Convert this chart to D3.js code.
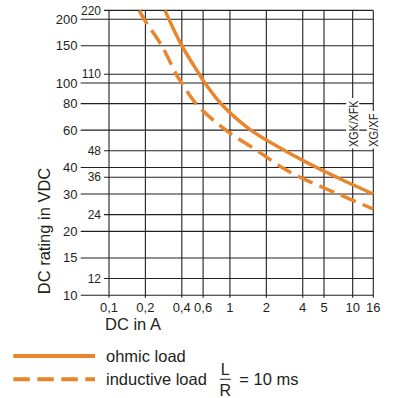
<!DOCTYPE html>
<html>
<head>
<meta charset="utf-8">
<script src="https://cdn.jsdelivr.net/npm/d3@7"></script>
<style>
html,body{margin:0;padding:0;background:#fff;}
svg{display:block;}
text{font-family:"Liberation Sans",Arial,Helvetica,sans-serif;fill:#231f20;}
</style>
</head>
<body>
<script>
// ---- data ----
const xTickValues = [0.1, 0.2, 0.4, 0.6, 1, 2, 4, 5, 10, 16];
const xTickLabels = ["0,1", "0,2", "0,4", "0,6", "1", "2", "4", "5", "10", "16"];
const yMajorTicks = [10, 15, 20, 30, 40, 60, 80, 100, 150, 200];
const yMinorTicks = [12, 24, 36, 48, 110, 220];

// ohmic load (solid)
const ohmicCurrent = [0.29, 0.40, 0.558, 0.622, 0.86, 1.49, 2.86, 4.63, 6.8, 16];
const ohmicVoltage = [220, 150, 110, 100, 79, 60, 48, 40, 36, 30];
// inductive load L/R = 10 ms (dashed)
const inductiveCurrent = [0.178, 0.195, 0.273, 0.36, 0.40, 0.534, 0.928, 1.68, 2.7, 3.8, 7.06, 16];
const inductiveVoltage = [220, 200, 150, 110, 100, 79, 60, 48, 40, 36, 30, 25.5];

const relayLabels = [{text: "XGK/XFK", at: 10}, {text: "XG/XF", at: 16}];

// ---- layout ----
(function () {
const W = 395, H = 398;
const pLeft = 109, pRight = 373.3, pTop = 10.4, pBottom = 295.3;
const orange = "#e9862b";
const ink = "#231f20";

const svg = d3.select("body").append("svg").attr("width", W).attr("height", H);

const pw = pRight - pLeft;
const x = d3.scaleLog()
  .domain([0.1, 4, 5, 10, 16])
  .range([pLeft, pLeft + pw * 0.733, pLeft + pw * 0.8135, pLeft + pw * 0.922, pRight]);
const y = d3.scaleLog().domain([10, 220]).range([pBottom, pTop]);

const grid = svg.append("g").attr("stroke", ink).attr("stroke-width", 1.1).attr("fill", "none");

grid.selectAll("line.v").data(xTickValues).join("line").attr("class", "v")
  .attr("x1", d => x(d)).attr("x2", d => x(d))
  .attr("y1", pTop).attr("y2", pBottom + 2.5);

grid.selectAll("line.hM").data(yMajorTicks).join("line").attr("class", "hM")
  .attr("x1", 80.7).attr("x2", pRight)
  .attr("y1", d => y(d)).attr("y2", d => y(d));
grid.selectAll("line.hm").data(yMinorTicks).join("line").attr("class", "hm")
  .attr("x1", 104).attr("x2", pRight)
  .attr("y1", d => y(d)).attr("y2", d => y(d));

svg.append("g").selectAll("text").data(yMajorTicks).join("text")
  .attr("x", 77.5).attr("y", d => y(d)).attr("dy", "0.35em")
  .attr("text-anchor", "end").attr("font-size", 13).text(d => d);
svg.append("g").selectAll("text").data(yMinorTicks).join("text")
  .attr("x", 101).attr("y", d => y(d)).attr("dy", "0.35em")
  .attr("text-anchor", "end").attr("font-size", 12).text(d => d);

svg.append("g").selectAll("text").data(xTickValues).join("text")
  .attr("x", d => x(d)).attr("y", 311.5)
  .attr("text-anchor", "middle").attr("font-size", 13)
  .text((d, i) => xTickLabels[i]);

svg.append("text").attr("x", 105).attr("y", 330).attr("font-size", 16.5).text("DC in A");
svg.append("text")
  .attr("transform", `translate(50,231) rotate(-90)`)
  .attr("text-anchor", "middle").attr("font-size", 16.5).text("DC rating in VDC");

const line = d3.line().x(d => x(d[0])).y(d => y(d[1])).curve(d3.curveCatmullRom.alpha(0.5));
const ohmic = ohmicCurrent.map((c, i) => [c, ohmicVoltage[i]]);
const inductive = inductiveCurrent.map((c, i) => [c, inductiveVoltage[i]]);

svg.append("path").datum(ohmic).attr("d", line)
  .attr("fill", "none").attr("stroke", orange).attr("stroke-width", 3.5);
svg.append("path").datum(inductive).attr("d", line)
  .attr("fill", "none").attr("stroke", orange).attr("stroke-width", 3.5)
  .attr("stroke-dasharray", "16,7.5");

const rl = svg.append("g");
relayLabels.forEach((r, i) => {
  const cx = x(r.at);
  const len = i === 0 ? 46.5 : 33.5;
  const yb = 147;
  rl.append("rect").attr("x", cx - 6.5).attr("y", yb - len - 2.5).attr("width", 13).attr("height", len + 4).attr("fill", "#fff");
  rl.append("text")
    .attr("transform", `translate(${cx + 5},${yb}) rotate(-90)`)
    .attr("font-size", 13.5)
    .attr("textLength", len).attr("lengthAdjust", "spacingAndGlyphs")
    .text(r.text);
});

const lg = svg.append("g");
lg.append("line").attr("x1", 13.3).attr("x2", 95).attr("y1", 356).attr("y2", 356)
  .attr("stroke", orange).attr("stroke-width", 4);
lg.append("line").attr("x1", 13.3).attr("x2", 95).attr("y1", 379.3).attr("y2", 379.3)
  .attr("stroke", orange).attr("stroke-width", 4).attr("stroke-dasharray", "16.5,7.5");
lg.append("text").attr("x", 106).attr("y", 361.5).attr("font-size", 16.5).text("ohmic load");
lg.append("text").attr("x", 106).attr("y", 385).attr("font-size", 16.5).text("inductive load");
lg.append("text").attr("x", 225.3).attr("y", 375.3).attr("text-anchor", "middle").attr("font-size", 16).text("L");
lg.append("line").attr("x1", 219.8).attr("x2", 230.8).attr("y1", 379.3).attr("y2", 379.3)
  .attr("stroke", ink).attr("stroke-width", 1);
lg.append("text").attr("x", 225.3).attr("y", 395.8).attr("text-anchor", "middle").attr("font-size", 16).text("R");
lg.append("text").attr("x", 239.3).attr("y", 385).attr("font-size", 16.5).text("= 10 ms");
})();
</script>
</body>
</html>
